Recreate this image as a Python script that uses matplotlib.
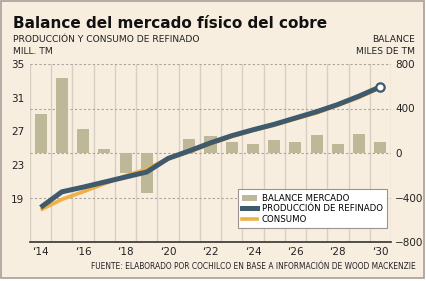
import matplotlib
matplotlib.use("Agg")
import matplotlib.pyplot as plt
from matplotlib.patches import Rectangle, Patch
from matplotlib.lines import Line2D
import numpy as np

# data
years = list(range(2014, 2031))
balance = [355, 670, 213, 40, -182, -357, 0, 122, 152, 95, 79, 113, 103, 158, 85, 167, 95]  # miles de TM
produccion = [18.0, 19.85, 20.4, 21.0, 21.6, 22.2, 23.8, 24.7, 25.65, 26.5, 27.2, 27.85, 28.6, 29.35, 30.2, 31.2, 32.3]
consumo = [17.7, 18.95, 19.85, 20.8, 21.75, 22.55, 23.8, 24.58, 25.5, 26.4, 27.12, 27.74, 28.5, 29.19, 30.12, 31.03, 32.2]
xtick_years = list(range(2014, 2031, 2))
xtick_labels = ["\u2018%02d" % (y % 100) for y in xtick_years]
left_ticks = [19, 23, 27, 31, 35]
right_ticks = [-800, -400, 0, 400, 800]

BG = "#f8eee0"
BAR = "#bdb898"
BLUE = "#3e5a6c"
ORANGE = "#f0b046"
VGRID = "#d8cfc2"
HGRID = "#aaa39b"
TXT = "#222222"
FONT = ["DejaVu Sans Condensed", "DejaVu Sans"]

plt.rcParams["font.family"] = FONT

fig = plt.figure(figsize=(4.26, 2.81), dpi=100, facecolor="white")
fig.patches.append(Rectangle((0.003, 0.01), 0.993, 0.985, transform=fig.transFigure,
                             facecolor=BG, edgecolor="#a99d95", linewidth=1.2, zorder=-10))

pos = [30 / 426, 1 - 242 / 281, 361 / 426, 178 / 281]
ax_bar = fig.add_axes(pos)
ax_line = fig.add_axes(pos)
ax_bar.set_facecolor("none")
ax_line.set_facecolor("none")

# bars on the balance scale (right)
ax_bar.bar(years, balance, width=0.57, color=BAR, zorder=3)
ax_bar.set_xlim(2013.5, 2030.5)
ax_bar.set_ylim(-800, 800)
for v in right_ticks[1:]:
    ax_bar.axhline(v, color=HGRID, lw=0.8, ls=(0, (2, 2)), zorder=1)
for xv in np.arange(2013.5, 2031, 1.0):
    ax_bar.axvline(xv, color=VGRID, lw=1.0, zorder=0)
ax_bar.yaxis.tick_right()
ax_bar.set_yticks(right_ticks)
ax_bar.set_xticks(xtick_years)
ax_bar.set_xticklabels(xtick_labels)
ax_bar.tick_params(axis="y", length=0, pad=3, labelsize=7.5, colors=TXT)
ax_bar.tick_params(axis="x", length=0, pad=3.5, labelsize=7.5, colors=TXT)
for s in ["top", "left", "right"]:
    ax_bar.spines[s].set_visible(False)
ax_bar.spines["bottom"].set_color("#333333")
ax_bar.spines["bottom"].set_linewidth(1.2)

# lines on the million-tonne scale (left)
ax_line.plot(years, consumo, color=ORANGE, lw=2.6, solid_capstyle="butt", zorder=4)
ax_line.plot(years, produccion, color=BLUE, lw=3.6, solid_capstyle="butt", zorder=5)
ax_line.plot(years[-1], produccion[-1], "o", ms=6, mfc="white", mec=BLUE, mew=1.6, zorder=6)
ax_line.set_xlim(2013.5, 2030.5)
ax_line.set_ylim(13.9, 35)
ax_line.set_yticks(left_ticks)
ax_line.set_xticks([])
ax_line.tick_params(axis="y", length=0, pad=4, labelsize=7.5, colors=TXT)
for s in ax_line.spines.values():
    s.set_visible(False)

handles = [Patch(facecolor=BAR, edgecolor="none"),
           Line2D([], [], color=BLUE, lw=3.6),
           Line2D([], [], color=ORANGE, lw=2.6)]
labels = ["BALANCE MERCADO", "PRODUCCIÓN DE REFINADO", "CONSUMO"]
leg = ax_line.legend(handles, labels, loc="lower right", bbox_to_anchor=(0.989, 0.079),
                     fontsize=6.2, frameon=True, fancybox=False, handlelength=1.7,
                     handletextpad=0.6, borderpad=0.5, labelspacing=0.18,
                     borderaxespad=0)
leg.get_frame().set_edgecolor("#9a948e")
leg.get_frame().set_linewidth(0.8)
leg.get_frame().set_facecolor("white")
leg.get_frame().set_alpha(1)

fig.text(13 / 426, 1 - 28 / 281, "Balance del mercado físico del cobre", fontsize=11,
         fontweight="bold", color="#111111", ha="left", va="baseline")
fig.text(13 / 426, 1 - 42 / 281, "PRODUCCIÓN Y CONSUMO DE REFINADO", fontsize=6.6,
         color=TXT, ha="left", va="baseline")
fig.text(13 / 426, 1 - 54 / 281, "MILL. TM", fontsize=6.6, color=TXT, ha="left", va="baseline")
fig.text(415 / 426, 1 - 42 / 281, "BALANCE", fontsize=6.6, color=TXT, ha="right", va="baseline")
fig.text(415 / 426, 1 - 54 / 281, "MILES DE TM", fontsize=6.6, color=TXT, ha="right", va="baseline")
fig.text(416 / 426, 1 - 269 / 281, "FUENTE: ELABORADO POR COCHILCO EN BASE A INFORMACIÓN DE WOOD MACKENZIE",
         fontsize=5.45, color=TXT, ha="right", va="baseline")

fig.savefig("out.png", dpi=100, facecolor="white")
